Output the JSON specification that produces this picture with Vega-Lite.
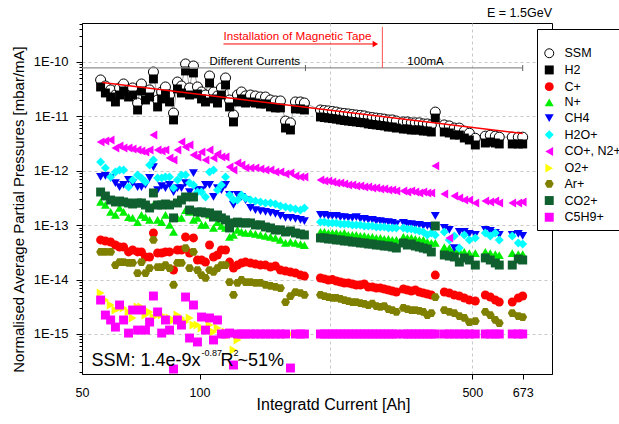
{
"$schema": "https://vega.github.io/schema/vega-lite/v6.json",
"width": 470, "height": 351,
"autosize": {"type": "none"},
"padding": {"left": 82, "top": 23, "right": 67, "bottom": 50},
"background": "white",
"config": {"font": "Liberation Sans", "view": {"stroke": "black", "strokeWidth": 1},
 "legend": {"orient": "none", "legendX": 455, "legendY": 6, "titleFontSize": 6, "titlePadding": 6, "padding": 6,
  "strokeColor": "black", "fillColor": "white", "labelFontSize": 12.5, "labelColor": "black", "symbolSize": 80, "symbolStrokeWidth": 1,
  "rowPadding": 2.7, "labelOffset": 9}},
"datasets": {"w": [
{"a":55.8,"SSM":4.67e-11,"H2":3.47e-11,"C+":5.35e-14,"N+":2.67e-13,"CH4":7.69e-13,"H2O+":1.45e-12,"CO+, N2+":3.38e-12,"O2+":5.67e-15,"\u2002\u2009Ar+":3.22e-14,"CO2+":4.07e-13,"C5H9+":4.21e-15},
{"a":57.4,"SSM":3.62e-11,"H2":2.69e-11,"C+":5.12e-14,"N+":2.35e-13,"CH4":8.03e-13,"H2O+":1.13e-12,"CO+, N2+":3.53e-12,"O2+":4.21e-15,"\u2002\u2009Ar+":3.22e-14,"CO2+":3.44e-13,"C5H9+":2.23e-15},
{"a":59.2,"SSM":3.06e-11,"H2":2.27e-11,"C+":4.91e-14,"N+":1.75e-13,"CH4":7.37e-13,"H2O+":7.69e-13,"CO+, N2+":3.68e-12,"O2+":3.41e-15,"\u2002\u2009Ar+":3.22e-14,"CO2+":2.9e-13,"C5H9+":1.81e-15},
{"a":60.9,"SSM":2.47e-11,"H2":1.84e-11,"C+":4.32e-14,"N+":1.54e-13,"CH4":5.96e-13,"H2O+":9.5e-13,"CO+, N2+":2.62e-12,"O2+":2.76e-15,"\u2002\u2009Ar+":1.85e-14,"CO2+":2.67e-13,"C5H9+":1.34e-15},
{"a":62.4,"SSM":3.33e-11,"H2":2.47e-11,"C+":3.97e-14,"N+":2.07e-13,"CH4":5.03e-13,"H2O+":1.03e-12,"CO+, N2+":2.86e-12,"O2+":3.01e-15,"\u2002\u2009Ar+":2.1e-14,"CO2+":2.78e-13,"C5H9+":3.41e-15},
{"a":63.9,"SSM":3.94e-11,"H2":2.93e-11,"C+":3.97e-14,"N+":1.75e-13,"CH4":5.48e-13,"H2O+":1.03e-12,"CO+, N2+":2.62e-12,"O2+":3.01e-15,"\u2002\u2009Ar+":2.1e-14,"CO2+":2.67e-13,"C5H9+":1.81e-15},
{"a":65.8,"SSM":3.06e-11,"H2":2.27e-11,"C+":3.22e-14,"N+":1.41e-13,"CH4":6.77e-13,"H2O+":5.03e-13,"CO+, N2+":2.62e-12,"O2+":2.54e-15,"\u2002\u2009Ar+":2.02e-14,"CO2+":2.56e-13,"C5H9+":1.04e-15},
{"a":67.4,"SSM":3.33e-11,"H2":2.47e-11,"C+":3.5e-14,"N+":1.36e-13,"CH4":5.96e-13,"H2O+":6.77e-13,"CO+, N2+":2.52e-12,"O2+":1.97e-15,"\u2002\u2009Ar+":2.02e-14,"CO2+":2.45e-13,"C5H9+":2.76e-15},
{"a":69.4,"SSM":1.76e-11,"H2":1.31e-11,"C+":3.22e-14,"N+":1.14e-13,"CH4":5.03e-13,"H2O+":8.36e-13,"CO+, N2+":2.41e-12,"O2+":3.14e-15,"\u2002\u2009Ar+":1.32e-14,"CO2+":2.56e-13,"C5H9+":1.18e-15},
{"a":71.0,"SSM":3.94e-11,"H2":2.93e-11,"C+":3.22e-14,"N+":1.54e-13,"CH4":5.03e-13,"H2O+":7.37e-13,"CO+, N2+":2.31e-12,"O2+":3.14e-15,"\u2002\u2009Ar+":2.1e-14,"CO2+":2.56e-13,"C5H9+":2.76e-15},
{"a":72.7,"SSM":2.69e-11,"H2":2.0e-11,"C+":2.6e-14,"N+":1.41e-13,"CH4":5.48e-13,"H2O+":6.22e-13,"CO+, N2+":2.21e-12,"O2+":2.23e-15,"\u2002\u2009Ar+":1.32e-14,"CO2+":2.35e-13,"C5H9+":1.18e-15},
{"a":74.5,"SSM":3.06e-11,"H2":2.27e-11,"C+":2.6e-14,"N+":1.25e-13,"CH4":7.37e-13,"H2O+":1.28e-12,"CO+, N2+":2.41e-12,"O2+":2.54e-15,"\u2002\u2009Ar+":1.63e-14,"CO2+":2.07e-13,"C5H9+":1.66e-15},
{"a":76.2,"SSM":6.54e-11,"H2":4.87e-11,"C+":7.19e-14,"N+":2.35e-13,"CH4":1.17e-12,"H2O+":1.58e-12,"CO+, N2+":4.55e-12,"O2+":2.05e-15,"\u2002\u2009Ar+":5.35e-14,"CO2+":3.91e-13,"C5H9+":4.99e-15},
{"a":78.1,"SSM":2.0e-11,"H2":1.49e-11,"C+":3.08e-14,"N+":1.25e-13,"CH4":4.43e-13,"H2O+":7.37e-13,"CO+, N2+":2.41e-12,"O2+":2.23e-15,"\u2002\u2009Ar+":1.7e-14,"CO2+":2.35e-13,"C5H9+":2.54e-15},
{"a":80.0,"SSM":2.81e-11,"H2":2.09e-11,"C+":3.08e-14,"N+":1.14e-13,"CH4":5.25e-13,"H2O+":7.37e-13,"CO+, N2+":2.31e-12,"O2+":2.23e-15,"\u2002\u2009Ar+":1.7e-14,"CO2+":2.35e-13,"C5H9+":1.04e-15},
{"a":81.8,"SSM":3.47e-11,"H2":2.58e-11,"C+":3.22e-14,"N+":1.54e-13,"CH4":4.82e-13,"H2O+":7.69e-13,"CO+, N2+":2.41e-12,"O2+":1.81e-15,"\u2002\u2009Ar+":1.85e-14,"CO2+":2.45e-13,"C5H9+":1.81e-15},
{"a":83.8,"SSM":2.47e-11,"H2":1.84e-11,"C+":3.22e-14,"N+":1.01e-13,"CH4":5.48e-13,"H2O+":7.69e-13,"CO+, N2+":1.72e-12,"O2+":1.97e-15,"\u2002\u2009Ar+":1.63e-14,"CO2+":2.35e-13,"C5H9+":1.18e-15},
{"a":85.8,"SSM":1.15e-11,"H2":8.6e-12,"C+":1.5e-14,"N+":7.5e-14,"CH4":4.07e-13,"H2O+":4.82e-13,"CO+, N2+":1.58e-12,"O2+":1.81e-15,"\u2002\u2009Ar+":7.96e-15,"CO2+":1.36e-13,"C5H9+":2.27e-16},
{"a":87.8,"SSM":4.28e-11,"H2":3.19e-11,"C+":3.5e-14,"N+":1.36e-13,"CH4":4.82e-13,"H2O+":6.77e-13,"CO+, N2+":2.41e-12,"O2+":2.23e-15,"\u2002\u2009Ar+":2.02e-14,"CO2+":2.56e-13,"C5H9+":1.81e-15},
{"a":89.9,"SSM":3.62e-11,"H2":2.69e-11,"C+":3.5e-14,"N+":1.36e-13,"CH4":4.82e-13,"H2O+":8.36e-13,"CO+, N2+":3.38e-12,"O2+":1.97e-15,"\u2002\u2009Ar+":2.02e-14,"CO2+":2.9e-13,"C5H9+":1.46e-15},
{"a":92.1,"SSM":9.19e-11,"H2":6.83e-11,"C+":6.07e-14,"N+":1.9e-13,"CH4":5.96e-13,"H2O+":8.36e-13,"CO+, N2+":2.74e-12,"O2+":1.66e-15,"\u2002\u2009Ar+":3.8e-14,"CO2+":3.3e-13,"C5H9+":4.78e-15},
{"a":94.3,"SSM":3.33e-11,"H2":2.47e-11,"C+":3.08e-14,"N+":1.75e-13,"CH4":4.07e-13,"H2O+":5.96e-13,"CO+, N2+":2.98e-12,"O2+":1.97e-15,"\u2002\u2009Ar+":1.63e-14,"CO2+":1.9e-13,"C5H9+":8.43e-16},
{"a":96.5,"SSM":8.43e-11,"H2":6.28e-11,"C+":5.83e-14,"N+":1.25e-13,"CH4":9.1e-13,"H2O+":5.48e-13,"CO+, N2+":1.95e-12,"O2+":1.46e-15,"\u2002\u2009Ar+":3.22e-14,"CO2+":3.3e-13,"C5H9+":3.41e-15},
{"a":98.8,"SSM":3.47e-11,"H2":2.58e-11,"C+":2.29e-14,"N+":1.36e-13,"CH4":4.43e-13,"H2O+":4.07e-13,"CO+, N2+":1.79e-12,"O2+":1.46e-15,"\u2002\u2009Ar+":1.5e-14,"CO2+":1.75e-13,"C5H9+":7.14e-16},
{"a":101.2,"SSM":2.81e-11,"H2":2.09e-11,"C+":2.29e-14,"N+":1.01e-13,"CH4":4.43e-13,"H2O+":4.07e-13,"CO+, N2+":2.21e-12,"O2+":1.29e-15,"\u2002\u2009Ar+":1.21e-14,"CO2+":1.75e-13,"C5H9+":2.05e-15},
{"a":103.6,"SSM":2.47e-11,"H2":1.84e-11,"C+":2.1e-14,"N+":1.01e-13,"CH4":5.48e-13,"H2O+":3.3e-13,"CO+, N2+":1.58e-12,"O2+":1.18e-15,"\u2002\u2009Ar+":1.07e-14,"CO2+":1.68e-13,"C5H9+":1.18e-15},
{"a":106.1,"SSM":5.53e-11,"H2":4.11e-11,"C+":4.32e-14,"N+":1.54e-13,"CH4":5.48e-13,"H2O+":9.5e-13,"CO+, N2+":2.41e-12,"O2+":1.46e-15,"\u2002\u2009Ar+":1.5e-14,"CO2+":1.68e-13,"C5H9+":1.97e-15},
{"a":108.6,"SSM":2.81e-11,"H2":2.09e-11,"C+":2.6e-14,"N+":8.89e-14,"CH4":3.3e-13,"H2O+":1.03e-12,"CO+, N2+":1.72e-12,"O2+":1.09e-15,"\u2002\u2009Ar+":1.38e-14,"CO2+":1.41e-13,"C5H9+":7.77e-16},
{"a":111.2,"SSM":2.37e-11,"H2":1.76e-11,"C+":2.83e-14,"N+":1.14e-13,"CH4":4.82e-13,"H2O+":4.43e-13,"CO+, N2+":2.03e-12,"O2+":1.29e-15,"\u2002\u2009Ar+":1.63e-14,"CO2+":1.54e-13,"C5H9+":1.81e-15},
{"a":113.8,"SSM":3.33e-11,"H2":2.47e-11,"C+":3.5e-14,"N+":9.67e-14,"CH4":4.43e-13,"H2O+":5.48e-13,"CO+, N2+":1.79e-12,"O2+":1e-15,"\u2002\u2009Ar+":1.85e-14,"CO2+":1.36e-13,"C5H9+":1e-15},
{"a":116.6,"SSM":5.08e-11,"H2":3.78e-11,"C+":3.5e-14,"N+":8.89e-14,"CH4":5.48e-13,"H2O+":7.69e-13,"CO+, N2+":1.79e-12,"O2+":1.09e-15,"\u2002\u2009Ar+":1.85e-14,"CO2+":1.25e-13,"C5H9+":1e-15},
{"a":119.4,"SSM":2.0e-11,"H2":1.49e-11,"C+":2.1e-14,"N+":6.07e-14,"CH4":3.59e-13,"H2O+":3.59e-13,"CO+, N2+":1.17e-12,"O2+":9.58e-16,"\u2002\u2009Ar+":9.03e-15,"CO2+":8.89e-14,"C5H9+":1.04e-15},
{"a":122.2,"SSM":1.06e-11,"H2":7.9e-12,"C+":1.63e-14,"N+":6.61e-14,"CH4":2.35e-13,"H2O+":2.9e-13,"CO+, N2+":1.03e-12,"O2+":5.08e-16,"\u2002\u2009Ar+":5.21e-15,"CO2+":1.1e-13,"C5H9+":2.69e-16},
{"a":125.1,"SSM":2.47e-11,"H2":1.84e-11,"C+":1.85e-14,"N+":8.17e-14,"CH4":3.59e-13,"H2O+":2.9e-13,"CO+, N2+":1.39e-12,"O2+":7.77e-16,"\u2002\u2009Ar+":8.66e-15,"CO2+":1.14e-13,"C5H9+":1e-15},
{"a":128.1,"SSM":2.81e-11,"H2":2.09e-11,"C+":2.02e-14,"N+":7.5e-14,"CH4":3.3e-13,"H2O+":3.59e-13,"CO+, N2+":1.28e-12,"O2+":1e-15,"\u2002\u2009Ar+":9.83e-15,"CO2+":1.1e-13,"C5H9+":1e-15},
{"a":131.2,"SSM":2.37e-11,"H2":1.76e-11,"C+":2.1e-14,"N+":7.19e-14,"CH4":2.9e-13,"H2O+":3.16e-13,"CO+, N2+":1.13e-12,"O2+":1e-15,"\u2002\u2009Ar+":9.03e-15,"CO2+":1.1e-13,"C5H9+":1e-15},
{"a":135.1,"SSM":2.47e-11,"H2":1.84e-11,"C+":2.02e-14,"N+":7.19e-14,"CH4":2.07e-13,"H2O+":2.9e-13,"CO+, N2+":1.13e-12,"O2+":1e-15,"\u2002\u2009Ar+":9.03e-15,"CO2+":1.1e-13,"C5H9+":1e-15},
{"a":139.1,"SSM":2.37e-11,"H2":1.76e-11,"C+":1.93e-14,"N+":6.89e-14,"CH4":1.9e-13,"H2O+":2.78e-13,"CO+, N2+":1.13e-12,"O2+":1e-15,"\u2002\u2009Ar+":8.66e-15,"CO2+":1.01e-13,"C5H9+":1e-15},
{"a":143.3,"SSM":2.27e-11,"H2":1.69e-11,"C+":1.85e-14,"N+":6.61e-14,"CH4":1.82e-13,"H2O+":2.67e-13,"CO+, N2+":1.08e-12,"O2+":1e-15,"\u2002\u2009Ar+":8.66e-15,"CO2+":1.01e-13,"C5H9+":1e-15},
{"a":147.6,"SSM":2.27e-11,"H2":1.69e-11,"C+":1.85e-14,"N+":6.34e-14,"CH4":1.75e-13,"H2O+":2.56e-13,"CO+, N2+":1.03e-12,"O2+":1e-15,"\u2002\u2009Ar+":7.96e-15,"CO2+":9.27e-14,"C5H9+":1e-15},
{"a":152.0,"SSM":2.0e-11,"H2":1.49e-11,"C+":1.7e-14,"N+":6.07e-14,"CH4":1.68e-13,"H2O+":2.56e-13,"CO+, N2+":1.03e-12,"O2+":1e-15,"\u2002\u2009Ar+":7.63e-15,"CO2+":8.89e-14,"C5H9+":1e-15},
{"a":156.5,"SSM":1.92e-11,"H2":1.43e-11,"C+":1.78e-14,"N+":5.83e-14,"CH4":1.61e-13,"H2O+":2.45e-13,"CO+, N2+":9.5e-13,"O2+":1e-15,"\u2002\u2009Ar+":7.31e-15,"CO2+":8.17e-14,"C5H9+":1e-15},
{"a":161.2,"SSM":1.92e-11,"H2":1.43e-11,"C+":1.5e-14,"N+":5.35e-14,"CH4":1.48e-13,"H2O+":2.25e-13,"CO+, N2+":9.5e-13,"O2+":1e-15,"\u2002\u2009Ar+":7.0e-15,"CO2+":8.17e-14,"C5H9+":1e-15},
{"a":166.1,"SSM":8.2e-12,"H2":6.1e-12,"C+":1.44e-14,"N+":4.71e-14,"CH4":1.36e-13,"H2O+":2.16e-13,"CO+, N2+":8.73e-13,"O2+":1e-15,"\u2002\u2009Ar+":3.87e-15,"CO2+":7.5e-14,"C5H9+":1e-15},
{"a":171.0,"SSM":7.6e-12,"H2":5.62e-12,"C+":1.38e-14,"N+":4.91e-14,"CH4":1.36e-13,"H2O+":2.07e-13,"CO+, N2+":9.1e-13,"O2+":1e-15,"\u2002\u2009Ar+":4.99e-15,"CO2+":7.83e-14,"C5H9+":2.37e-16},
{"a":176.1,"SSM":1.84e-11,"H2":1.37e-11,"C+":1.32e-14,"N+":4.71e-14,"CH4":1.3e-13,"H2O+":1.98e-13,"CO+, N2+":8.03e-13,"O2+":1e-15,"\u2002\u2009Ar+":5.91e-15,"CO2+":7.19e-14,"C5H9+":1e-15},
{"a":181.4,"SSM":1.84e-11,"H2":1.37e-11,"C+":1.21e-14,"N+":4.51e-14,"CH4":1.25e-13,"H2O+":1.9e-13,"CO+, N2+":7.69e-13,"O2+":1e-15,"\u2002\u2009Ar+":5.67e-15,"CO2+":6.89e-14,"C5H9+":1e-15},
{"a":185.7,"SSM":1.76e-11,"H2":1.31e-11,"C+":1.16e-14,"N+":4.32e-14,"CH4":1.19e-13,"H2O+":2.07e-13,"CO+, N2+":7.69e-13,"O2+":1e-15,"\u2002\u2009Ar+":5.21e-15,"CO2+":6.61e-14,"C5H9+":1e-15},
{"a":204.1,"SSM":1.31e-11,"H2":9.75e-12,"C+":1.07e-14,"N+":7.5e-14,"CH4":1.54e-13,"H2O+":1.14e-13,"CO+, N2+":6.77e-13,"O2+":1e-15,"\u2002\u2009Ar+":5.21e-15,"CO2+":5.83e-14,"C5H9+":1e-15},
{"a":208.9,"SSM":1.28e-11,"H2":9.5e-12,"C+":1.03e-14,"N+":7.5e-14,"CH4":1.54e-13,"H2O+":1.14e-13,"CO+, N2+":6.49e-13,"O2+":1e-15,"\u2002\u2009Ar+":4.99e-15,"CO2+":5.83e-14,"C5H9+":1e-15},
{"a":213.9,"SSM":1.26e-11,"H2":9.3e-12,"C+":9.83e-15,"N+":7.19e-14,"CH4":1.48e-13,"H2O+":1.1e-13,"CO+, N2+":6.49e-13,"O2+":1e-15,"\u2002\u2009Ar+":4.78e-15,"CO2+":5.58e-14,"C5H9+":1e-15},
{"a":219.0,"SSM":1.23e-11,"H2":9.1e-12,"C+":1.0e-14,"N+":7.19e-14,"CH4":1.48e-13,"H2O+":1.1e-13,"CO+, N2+":6.22e-13,"O2+":1e-15,"\u2002\u2009Ar+":4.59e-15,"CO2+":5.58e-14,"C5H9+":1e-15},
{"a":224.2,"SSM":1.2e-11,"H2":8.9e-12,"C+":9.42e-15,"N+":7.19e-14,"CH4":1.48e-13,"H2O+":1.1e-13,"CO+, N2+":5.96e-13,"O2+":1e-15,"\u2002\u2009Ar+":4.59e-15,"CO2+":5.35e-14,"C5H9+":1e-15},
{"a":229.6,"SSM":1.15e-11,"H2":8.6e-12,"C+":9.03e-15,"N+":6.89e-14,"CH4":1.41e-13,"H2O+":1.05e-13,"CO+, N2+":5.96e-13,"O2+":1e-15,"\u2002\u2009Ar+":4.4e-15,"CO2+":5.35e-14,"C5H9+":1e-15},
{"a":235.0,"SSM":1.13e-11,"H2":8.4e-12,"C+":8.66e-15,"N+":7.19e-14,"CH4":1.41e-13,"H2O+":1.05e-13,"CO+, N2+":5.71e-13,"O2+":1e-15,"\u2002\u2009Ar+":4.21e-15,"CO2+":5.12e-14,"C5H9+":1e-15},
{"a":240.6,"SSM":1.11e-11,"H2":8.2e-12,"C+":8.66e-15,"N+":6.61e-14,"CH4":1.36e-13,"H2O+":1.05e-13,"CO+, N2+":5.48e-13,"O2+":1e-15,"\u2002\u2009Ar+":4.04e-15,"CO2+":5.12e-14,"C5H9+":1e-15},
{"a":246.4,"SSM":1.08e-11,"H2":8.05e-12,"C+":8.3e-15,"N+":6.61e-14,"CH4":1.36e-13,"H2O+":1.01e-13,"CO+, N2+":5.48e-13,"O2+":1e-15,"\u2002\u2009Ar+":3.87e-15,"CO2+":4.91e-14,"C5H9+":1e-15},
{"a":252.2,"SSM":1.06e-11,"H2":7.9e-12,"C+":7.96e-15,"N+":6.61e-14,"CH4":1.41e-13,"H2O+":1.01e-13,"CO+, N2+":5.25e-13,"O2+":1e-15,"\u2002\u2009Ar+":3.87e-15,"CO2+":4.91e-14,"C5H9+":1e-15},
{"a":258.3,"SSM":1.04e-11,"H2":7.7e-12,"C+":7.96e-15,"N+":6.34e-14,"CH4":1.3e-13,"H2O+":1.01e-13,"CO+, N2+":5.25e-13,"O2+":1e-15,"\u2002\u2009Ar+":3.71e-15,"CO2+":4.71e-14,"C5H9+":1e-15},
{"a":264.4,"SSM":1.02e-11,"H2":7.6e-12,"C+":8.3e-15,"N+":6.34e-14,"CH4":1.3e-13,"H2O+":9.67e-14,"CO+, N2+":5.03e-13,"O2+":1e-15,"\u2002\u2009Ar+":3.56e-15,"CO2+":4.71e-14,"C5H9+":1e-15},
{"a":270.7,"SSM":9.75e-12,"H2":7.26e-12,"C+":7.31e-15,"N+":6.07e-14,"CH4":1.25e-13,"H2O+":9.67e-14,"CO+, N2+":5.03e-13,"O2+":1e-15,"\u2002\u2009Ar+":3.41e-15,"CO2+":4.51e-14,"C5H9+":1e-15},
{"a":277.2,"SSM":9.5e-12,"H2":7.1e-12,"C+":7.31e-15,"N+":6.07e-14,"CH4":1.25e-13,"H2O+":9.67e-14,"CO+, N2+":4.82e-13,"O2+":1e-15,"\u2002\u2009Ar+":3.6e-15,"CO2+":4.51e-14,"C5H9+":1e-15},
{"a":283.8,"SSM":9.3e-12,"H2":6.96e-12,"C+":7.0e-15,"N+":5.83e-14,"CH4":1.19e-13,"H2O+":9.27e-14,"CO+, N2+":4.82e-13,"O2+":1e-15,"\u2002\u2009Ar+":3.27e-15,"CO2+":4.32e-14,"C5H9+":1e-15},
{"a":290.6,"SSM":9.1e-12,"H2":6.8e-12,"C+":7.0e-15,"N+":5.83e-14,"CH4":1.19e-13,"H2O+":9.27e-14,"CO+, N2+":4.63e-13,"O2+":1e-15,"\u2002\u2009Ar+":3.14e-15,"CO2+":4.32e-14,"C5H9+":1e-15},
{"a":297.5,"SSM":8.9e-12,"H2":6.67e-12,"C+":6.72e-15,"N+":5.58e-14,"CH4":1.14e-13,"H2O+":9.27e-14,"CO+, N2+":4.63e-13,"O2+":1e-15,"\u2002\u2009Ar+":3.27e-15,"CO2+":4.14e-14,"C5H9+":1e-15},
{"a":304.7,"SSM":8.6e-12,"H2":6.38e-12,"C+":6.44e-15,"N+":5.58e-14,"CH4":1.14e-13,"H2O+":8.89e-14,"CO+, N2+":4.43e-13,"O2+":1e-15,"\u2002\u2009Ar+":2.88e-15,"CO2+":4.14e-14,"C5H9+":1e-15},
{"a":311.9,"SSM":8.6e-12,"H2":6.38e-12,"C+":6.17e-15,"N+":5.35e-14,"CH4":1.1e-13,"H2O+":8.89e-14,"CO+, N2+":4.43e-13,"O2+":1e-15,"\u2002\u2009Ar+":2.76e-15,"CO2+":3.97e-14,"C5H9+":1e-15},
{"a":319.4,"SSM":8.2e-12,"H2":6.1e-12,"C+":5.91e-15,"N+":5.35e-14,"CH4":1.05e-13,"H2O+":8.89e-14,"CO+, N2+":4.25e-13,"O2+":1e-15,"\u2002\u2009Ar+":2.54e-15,"CO2+":3.8e-14,"C5H9+":1e-15},
{"a":332.9,"SSM":7.9e-12,"H2":5.86e-12,"C+":6.72e-15,"N+":6.07e-14,"CH4":1.1e-13,"H2O+":8.89e-14,"CO+, N2+":4.25e-13,"O2+":1e-15,"\u2002\u2009Ar+":3.01e-15,"CO2+":4.71e-14,"C5H9+":1e-15},
{"a":340.8,"SSM":7.9e-12,"H2":5.86e-12,"C+":6.44e-15,"N+":5.83e-14,"CH4":1.05e-13,"H2O+":8.52e-14,"CO+, N2+":4.07e-13,"O2+":1e-15,"\u2002\u2009Ar+":2.88e-15,"CO2+":4.32e-14,"C5H9+":1e-15},
{"a":348.9,"SSM":7.6e-12,"H2":5.62e-12,"C+":6.17e-15,"N+":5.83e-14,"CH4":1.05e-13,"H2O+":8.52e-14,"CO+, N2+":4.25e-13,"O2+":1e-15,"\u2002\u2009Ar+":2.76e-15,"CO2+":4.51e-14,"C5H9+":1e-15},
{"a":357.3,"SSM":7.6e-12,"H2":5.62e-12,"C+":6.44e-15,"N+":5.58e-14,"CH4":1.01e-13,"H2O+":8.17e-14,"CO+, N2+":4.07e-13,"O2+":1e-15,"\u2002\u2009Ar+":2.76e-15,"CO2+":4.14e-14,"C5H9+":1e-15},
{"a":365.8,"SSM":7.6e-12,"H2":5.62e-12,"C+":5.91e-15,"N+":5.35e-14,"CH4":1.01e-13,"H2O+":7.83e-14,"CO+, N2+":3.91e-13,"O2+":1e-15,"\u2002\u2009Ar+":2.65e-15,"CO2+":3.97e-14,"C5H9+":1e-15},
{"a":374.5,"SSM":7.26e-12,"H2":5.38e-12,"C+":5.67e-15,"N+":5.35e-14,"CH4":9.67e-14,"H2O+":7.5e-14,"CO+, N2+":4.07e-13,"O2+":1e-15,"\u2002\u2009Ar+":2.54e-15,"CO2+":3.8e-14,"C5H9+":1e-15},
{"a":383.5,"SSM":7.26e-12,"H2":5.38e-12,"C+":5.43e-15,"N+":4.91e-14,"CH4":9.67e-14,"H2O+":6.61e-14,"CO+, N2+":3.91e-13,"O2+":1e-15,"\u2002\u2009Ar+":2.23e-15,"CO2+":3.65e-14,"C5H9+":1e-15},
{"a":392.6,"SSM":6.96e-12,"H2":5.16e-12,"C+":5.21e-15,"N+":4.71e-14,"CH4":9.27e-14,"H2O+":7.19e-14,"CO+, N2+":3.91e-13,"O2+":1e-15,"\u2002\u2009Ar+":2.43e-15,"CO2+":3.22e-14,"C5H9+":1e-15},
{"a":401.9,"SSM":1.2e-11,"H2":9.3e-12,"C+":1.21e-14,"N+":4.71e-14,"CH4":1.48e-13,"H2O+":6.61e-14,"CO+, N2+":1.23e-12,"O2+":1e-15,"\u2002\u2009Ar+":4.78e-15,"CO2+":9.67e-14,"C5H9+":1e-15},
{"a":423.8,"SSM":6.96e-12,"H2":5.16e-12,"C+":5.91e-15,"N+":3.97e-14,"CH4":8.89e-14,"H2O+":7.5e-14,"CO+, N2+":3.74e-13,"O2+":1e-15,"\u2002\u2009Ar+":2.76e-15,"CO2+":2.83e-14,"C5H9+":1e-15},
{"a":436.5,"SSM":6.67e-12,"H2":4.95e-12,"C+":5.67e-15,"N+":3.8e-14,"CH4":8.17e-14,"H2O+":5.35e-14,"CO+, N2+":5.83e-14,"O2+":1e-15,"\u2002\u2009Ar+":2.54e-15,"CO2+":2.71e-14,"C5H9+":1e-15},
{"a":449.6,"SSM":6.1e-12,"H2":4.54e-12,"C+":5.21e-15,"N+":3.5e-14,"CH4":3.8e-14,"H2O+":6.34e-14,"CO+, N2+":3.44e-13,"O2+":1e-15,"\u2002\u2009Ar+":2.43e-15,"CO2+":2.6e-14,"C5H9+":1e-15},
{"a":463.1,"SSM":6.1e-12,"H2":4.54e-12,"C+":4.99e-15,"N+":3.36e-14,"CH4":7.5e-14,"H2O+":3.8e-14,"CO+, N2+":3.16e-13,"O2+":1e-15,"\u2002\u2009Ar+":2.14e-15,"CO2+":2.1e-14,"C5H9+":1e-15},
{"a":476.9,"SSM":5.35e-12,"H2":4.0e-12,"C+":4.59e-15,"N+":3.22e-14,"CH4":7.5e-14,"H2O+":6.61e-14,"CO+, N2+":2.9e-13,"O2+":1e-15,"\u2002\u2009Ar+":1.97e-15,"CO2+":2.5e-14,"C5H9+":1e-15},
{"a":491.2,"SSM":4.9e-12,"H2":3.68e-12,"C+":4.21e-15,"N+":3.08e-14,"CH4":6.89e-14,"H2O+":5.35e-14,"CO+, N2+":2.9e-13,"O2+":1e-15,"\u2002\u2009Ar+":1.66e-15,"CO2+":2.29e-14,"C5H9+":1e-15},
{"a":508.9,"SSM":3.96e-12,"H2":2.98e-12,"C+":4.04e-15,"N+":3.08e-14,"CH4":6.61e-14,"H2O+":5.83e-14,"CO+, N2+":2.56e-13,"O2+":1e-15,"\u2002\u2009Ar+":1.73e-15,"CO2+":1.85e-14,"C5H9+":1e-15},
{"a":539.8,"SSM":4.33e-12,"H2":3.24e-12,"C+":5.21e-15,"N+":3.22e-14,"CH4":8.17e-14,"H2O+":7.19e-14,"CO+, N2+":2.78e-13,"O2+":1e-15,"\u2002\u2009Ar+":2.54e-15,"CO2+":2.5e-14,"C5H9+":1e-15},
{"a":555.9,"SSM":4.5e-12,"H2":3.38e-12,"C+":4.78e-15,"N+":3.08e-14,"CH4":7.83e-14,"H2O+":6.34e-14,"CO+, N2+":2.67e-13,"O2+":1e-15,"\u2002\u2009Ar+":2.23e-15,"CO2+":2.29e-14,"C5H9+":1e-15},
{"a":572.6,"SSM":4.33e-12,"H2":3.24e-12,"C+":4.21e-15,"N+":2.95e-14,"CH4":7.19e-14,"H2O+":7.19e-14,"CO+, N2+":2.78e-13,"O2+":1e-15,"\u2002\u2009Ar+":1.81e-15,"CO2+":2.02e-14,"C5H9+":1e-15},
{"a":586.1,"SSM":4.15e-12,"H2":3.11e-12,"C+":3.87e-15,"N+":2.83e-14,"CH4":6.61e-14,"H2O+":5.35e-14,"CO+, N2+":2.56e-13,"O2+":1e-15,"\u2002\u2009Ar+":1.59e-15,"CO2+":1.85e-14,"C5H9+":1e-15},
{"a":632.8,"SSM":4.15e-12,"H2":3.11e-12,"C+":3.87e-15,"N+":3.08e-14,"CH4":6.61e-14,"H2O+":6.34e-14,"CO+, N2+":2.56e-13,"O2+":1e-15,"\u2002\u2009Ar+":2.43e-15,"CO2+":1.85e-14,"C5H9+":1e-15},
{"a":655.7,"SSM":4.15e-12,"H2":3.11e-12,"C+":4.59e-15,"N+":2.95e-14,"CH4":6.89e-14,"H2O+":4.71e-14,"CO+, N2+":2.56e-13,"O2+":1e-15,"\u2002\u2009Ar+":2.14e-15,"CO2+":2.39e-14,"C5H9+":1e-15},
{"a":673,"SSM":4.15e-12,"H2":3.11e-12,"C+":4.99e-15,"N+":2.95e-14,"CH4":6.34e-14,"H2O+":4.51e-14,"CO+, N2+":2.67e-13,"O2+":1e-15,"\u2002\u2009Ar+":2.05e-15,"CO2+":2.29e-14,"C5H9+":1e-15}
]},
"encoding": {
 "x": {"field": "a", "type": "quantitative",
  "scale": {"type": "log", "domain": [50, 800], "nice": false},
  "axis": {"values": [50, 100, 216, 500, 673],
   "labelExpr": "datum.value == 216 ? '' : format(datum.value, 'd')",
   "tickOpacity": {"condition": {"test": "datum.value == 216 || datum.value == 50", "value": 0}, "value": 1},
   "grid": true, "gridColor": "#c8c8c8", "gridDash": [3, 3],
   "gridOpacity": {"condition": {"test": "datum.value == 216 || datum.value == 500", "value": 1}, "value": 0},
   "tickSize": 5, "tickColor": "black", "domainColor": "black",
   "labelPadding": 7, "labelFontSize": 12.5, "labelColor": "black", "labelFlush": false, "labelOverlap": false,
   "title": "Integratd Current [Ah]", "titleFontSize": 16, "titleFontWeight": "normal", "titleColor": "black",
   "titleX": 251, "titleY": 30, "titleBaseline": "middle", "titleAlign": "center"}},
 "y": {"field": "p", "type": "quantitative",
  "scale": {"type": "log", "domain": [1.84e-16, 5.2e-10], "nice": false},
  "axis": {"values": [2e-16,3e-16,4e-16,5e-16,6e-16,7e-16,8e-16,9e-16,1e-15,2e-15,3e-15,4e-15,5e-15,6e-15,7e-15,8e-15,9e-15,1e-14,2e-14,3e-14,4e-14,5e-14,6e-14,7e-14,8e-14,9e-14,1e-13,2e-13,3e-13,4e-13,5e-13,6e-13,7e-13,8e-13,9e-13,1e-12,2e-12,3e-12,4e-12,5e-12,6e-12,7e-12,8e-12,9e-12,1e-11,2e-11,3e-11,4e-11,5e-11,6e-11,7e-11,8e-11,9e-11,1e-10,2e-10,3e-10,4e-10,5e-10],
   "labelExpr": "abs(log(datum.value)/LN10 - round(log(datum.value)/LN10)) < 0.01 ? '1E' + round(log(datum.value)/LN10) : ''",
   "tickSize": {"condition": {"test": "abs(log(datum.value)/LN10 - round(log(datum.value)/LN10)) < 0.01", "value": 6}, "value": 3},
   "grid": true, "gridColor": "#c8c8c8", "gridDash": [3, 3],
   "gridOpacity": {"condition": {"test": "abs(log(datum.value)/LN10 - round(log(datum.value)/LN10)) < 0.01", "value": 1}, "value": 0},
   "tickColor": "black", "domainColor": "black",
   "labelPadding": 8, "labelFontSize": 13, "labelColor": "black", "labelOverlap": false, "labelBound": false, "labelFlush": false,
   "title": "Normalised Average Partial Pressures [mbar/mA]", "titleFontSize": 15, "titleFontWeight": "normal", "titleColor": "black",
   "titleX": -64, "titleY": 186, "titleAngle": 270, "titleAlign": "center", "titleBaseline": "middle"}}
},
"layer": [
 {"data": {"name": "w"}, "transform": [{"fold": ["SSM"], "as": ["ion", "p"]}],
  "mark": {"type": "line", "color": "#8c8c8c", "strokeWidth": 0.8}},
 {"data": {"name": "w"},
  "encoding": {
   "fill": {"field": "ion", "type": "nominal",
    "scale": {"domain": ["SSM","H2","C+","N+","CH4","H2O+","CO+, N2+","O2+","\u2002\u2009Ar+","CO2+","C5H9+"],
     "range": ["white","black","#ff0000","#00ee00","#0000ff","#00ffff","#ff00ff","#ffff00","#808000","#0f5f2f","#ff00ff"]},
    "legend": {"title": "\u00a0"}},
   "stroke": {"field": "ion", "type": "nominal",
    "scale": {"domain": ["SSM","H2","C+","N+","CH4","H2O+","CO+, N2+","O2+","\u2002\u2009Ar+","CO2+","C5H9+"],
     "range": ["black","transparent","transparent","transparent","transparent","transparent","transparent","transparent","transparent","transparent","transparent"]},
    "legend": {"title": "\u00a0"}},
   "shape": {"field": "ion", "type": "nominal",
    "scale": {"domain": ["SSM","H2","C+","N+","CH4","H2O+","CO+, N2+","O2+","\u2002\u2009Ar+","CO2+","C5H9+"],
     "range": ["circle","square","circle","triangle-up","triangle-down","diamond","triangle-left","triangle-right","M-1,0L-0.5,-0.866L0.5,-0.866L1,0L0.5,0.866L-0.5,0.866Z","square","square"]},
    "legend": {"title": "\u00a0"}}
  },
  "layer": [
   {"transform": [{"fold": ["SSM"], "as": ["ion", "p"]}], "mark": {"type": "point", "size": 100, "opacity": 1, "strokeWidth": 1}},
   {"transform": [{"fold": ["H2"], "as": ["ion", "p"]}], "mark": {"type": "point", "size": 80, "opacity": 1, "strokeWidth": 1}},
   {"transform": [{"fold": ["C+"], "as": ["ion", "p"]}], "mark": {"type": "point", "size": 80, "opacity": 1, "strokeWidth": 1}},
   {"transform": [{"fold": ["N+"], "as": ["ion", "p"]}], "mark": {"type": "point", "size": 80, "opacity": 1, "strokeWidth": 1}},
   {"transform": [{"fold": ["CH4"], "as": ["ion", "p"]}], "mark": {"type": "point", "size": 80, "opacity": 1, "strokeWidth": 1}},
   {"transform": [{"fold": ["H2O+"], "as": ["ion", "p"]}], "mark": {"type": "point", "size": 80, "opacity": 1, "strokeWidth": 1}},
   {"transform": [{"fold": ["CO+, N2+"], "as": ["ion", "p"]}], "mark": {"type": "point", "size": 80, "opacity": 1, "strokeWidth": 1}},
   {"transform": [{"fold": ["O2+"], "as": ["ion", "p"]}], "mark": {"type": "point", "size": 80, "opacity": 1, "strokeWidth": 1}},
   {"transform": [{"fold": ["\u2002\u2009Ar+"], "as": ["ion", "p"]}], "mark": {"type": "point", "size": 80, "opacity": 1, "strokeWidth": 1}},
   {"transform": [{"fold": ["CO2+"], "as": ["ion", "p"]}], "mark": {"type": "point", "size": 80, "opacity": 1, "strokeWidth": 1}},
   {"transform": [{"fold": ["C5H9+"], "as": ["ion", "p"]}], "mark": {"type": "point", "size": 80, "opacity": 1, "strokeWidth": 1}}
  ]},
 {"data": {"values": [{"a": 56.4, "p": 4.19e-11}, {"a": 673, "p": 4.85e-12}]},
  "mark": {"type": "line", "color": "red", "strokeWidth": 1.5}},
 {"data": {"values": [{"a": 50, "p": 7.76e-11}, {"a": 673, "p": 7.76e-11}]},
  "mark": {"type": "line", "color": "#909090", "strokeWidth": 1.2}},
 {"data": {"values": [{"a": 186.8, "p": 8.8e-11, "p2": 6.8e-11}, {"a": 673, "p": 8.8e-11, "p2": 6.8e-11}]},
  "mark": {"type": "rule", "color": "#606060"}, "encoding": {"y2": {"field": "p2"}}},
 {"data": {"values": [{"a": 294.1, "p": 4.4e-10, "p2": 7.76e-11}]},
  "mark": {"type": "rule", "color": "#ff5050", "strokeWidth": 1}, "encoding": {"y2": {"field": "p2"}}},
 {"data": {"values": [{"a": 115.2, "p": 2.14e-10}, {"a": 280, "p": 2.14e-10}]},
  "mark": {"type": "line", "color": "red", "strokeWidth": 1}},
 {"data": {"values": [{"a": 282.2, "p": 2.14e-10}]},
  "mark": {"type": "point", "shape": "triangle-right", "filled": true, "color": "red", "size": 40, "opacity": 1}},
 {"data": {"values": [{"a": 115.2, "p": 3.0e-10, "t": "Installation of Magnetic Tape"}]},
  "mark": {"type": "text", "align": "left", "baseline": "middle", "fontSize": 11.7, "color": "red"},
  "encoding": {"text": {"field": "t"}}},
 {"data": {"values": [{"a": 106.1, "p": 1e-10, "t": "Different Currents"}, {"a": 340.8, "p": 1e-10, "t": "100mA"}]},
  "mark": {"type": "text", "align": "left", "baseline": "middle", "fontSize": 11.5, "color": "black"},
  "encoding": {"text": {"field": "t"}}},
 {"data": {"values": [{"a": 800, "p": 7.96e-10, "t": "E = 1.5GeV"}]},
  "mark": {"type": "text", "align": "right", "baseline": "middle", "fontSize": 12.5, "color": "black"},
  "encoding": {"text": {"field": "t"}}},
 {"data": {"values": [{"a": 52.9, "p": 3.19e-16, "t": "SSM: 1.4e-9x"}, {"a": 113.2, "p": 3.19e-16, "t": "R"}, {"a": 125.1, "p": 3.19e-16, "t": "~51%"}]},
  "mark": {"type": "text", "align": "left", "baseline": "middle", "fontSize": 18, "color": "black"},
  "encoding": {"text": {"field": "t"}}},
 {"data": {"values": [{"a": 101.2, "p": 4.48e-16, "t": "-0.87"}, {"a": 122.2, "p": 4.48e-16, "t": "2"}]},
  "mark": {"type": "text", "align": "left", "baseline": "middle", "fontSize": 9, "color": "black"},
  "encoding": {"text": {"field": "t"}}}
]
}
